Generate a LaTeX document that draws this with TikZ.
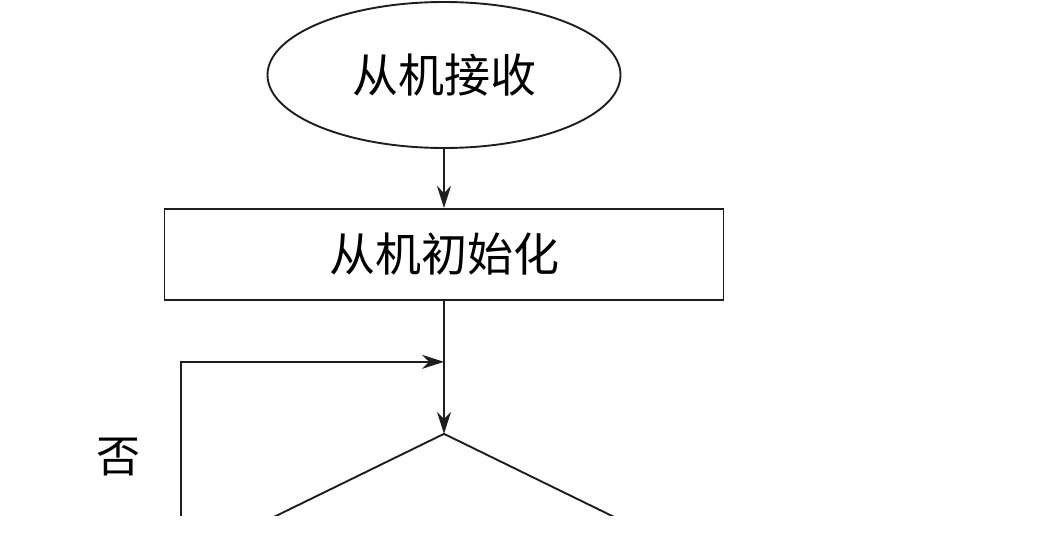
\documentclass[tikz,border=0pt]{standalone}
\usepackage{fontspec}
\usepackage{tikz}
\usetikzlibrary{shapes.geometric, arrows.meta, positioning}
\newfontfamily\cjk{Noto Sans CJK SC}
\definecolor{flowline}{RGB}{30, 30, 30}

\tikzset{
  startbox/.style={ellipse, draw=flowline, line width=1.9pt, inner sep=0pt,
        minimum width=353pt, minimum height=146pt, font=\cjk\fontsize{46}{50}\selectfont},
  procbox/.style={rectangle, draw=flowline, line width=1.9pt, inner sep=0pt,
        minimum width=559pt, minimum height=91pt, font=\cjk\fontsize{46}{50}\selectfont},
  decbox/.style={diamond, draw=flowline, line width=1.9pt, inner sep=0pt, outer sep=0pt,
        minimum width=700pt, minimum height=342pt},
  labeltext/.style={font=\cjk\fontsize{44}{48}\selectfont, inner sep=0pt},
  flowarrow/.style={draw=flowline, line width=1.9pt, -{Stealth[length=22pt, width=14pt]}}
}

\begin{document}
\begin{tikzpicture}[x=1pt, y=-1pt]
  \useasboundingbox (0,0) rectangle (1052,545);

  \node[startbox] (recv) at (444,75) {从机接收};
  \node[procbox, below=59pt of recv] (init) {从机初始化};

  % decision box and loop are cut off at the lower edge
  \begin{scope}
    \clip (0,0) rectangle (1052,515);
    \node[decbox, below=133pt of init] (check) {};
    \coordinate[below=61pt of init.south] (join);
    \coordinate (loopstart) at (181,560);
    \draw[flowarrow] (loopstart) |- (join);
  \end{scope}

  \node[labeltext] (no) at (118,457) {否};

  \draw[flowarrow] (recv) -- (init);
  \draw[flowarrow] (init) -- (check);
\end{tikzpicture}
\end{document}
